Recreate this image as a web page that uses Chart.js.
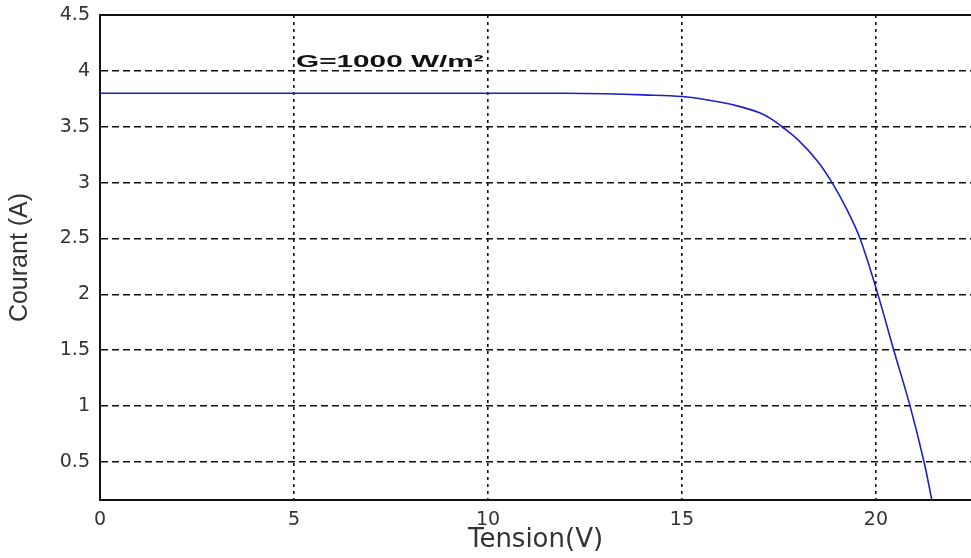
<!DOCTYPE html>
<html>
<head>
<meta charset="utf-8">
<script src="https://cdn.jsdelivr.net/npm/chart.js@4"></script>
<style>
  html, body { margin: 0; padding: 0; background: #fff; }
  #wrap { width: 971px; height: 558px; }
</style>
</head>
<body>
<div id="wrap"><canvas id="ivChart"></canvas></div>
<script>
// I-V curve
const tension = [0, 5, 10, 12, 13, 14, 15, 16, 16.5, 17, 17.3, 17.58, 18, 18.5, 18.87, 19.25, 19.59, 20.05, 20.46, 20.88, 21.24, 21.44];
const courant = [3.80, 3.80, 3.80, 3.80, 3.795, 3.785, 3.77, 3.72, 3.68, 3.625, 3.57, 3.5, 3.38, 3.19, 3.0, 2.76, 2.5, 2.0, 1.5, 1.0, 0.5, 0.16];

const xTicks = [0, 5, 10, 15, 20];
const yTicks = [0.5, 1, 1.5, 2, 2.5, 3, 3.5, 4, 4.5];
const xRange = [0, 22.45];
const yRange = [0.16, 4.5];

const noteText = "G=1000 W/m²";
const notePos = { x: 5, y: 4 };

// texte en gras, étiré comme sur l'original
const notePlugin = {
    id: "note",
    afterDatasetsDraw(chart) {
        const { ctx, scales } = chart;
        const px = scales.x.getPixelForValue(notePos.x) + 2;
        const py = scales.y.getPixelForValue(notePos.y) - 4;
        ctx.save();
        ctx.font = "bold 17px 'Liberation Sans', Arial, sans-serif";
        ctx.fillStyle = "#111";
        ctx.textAlign = "left";
        ctx.textBaseline = "alphabetic";
        ctx.translate(px, py);
        ctx.scale(1.75, 1);
        ctx.fillText(noteText, 0, 0);
        ctx.restore();
    }
};

const canvas = document.getElementById("ivChart");

new Chart(canvas, {
    type: "line",
    data: {
        datasets: [{
            data: tension.map((v, i) => ({ x: v, y: courant[i] })),
            borderColor: "rgb(30,30,205)",
            borderWidth: 1.6,
            pointRadius: 0,
            fill: false,
            tension: 0.35
        }]
    },
    options: {
        responsive: true,
        maintainAspectRatio: false,
        animation: false,
        layout: { padding: { top: 15, right: 0, bottom: 0, left: 0 } },
        plugins: {
            legend: { display: false },
            tooltip: { enabled: false }
        },
        scales: {
            x: {
                type: "linear",
                min: xRange[0],
                max: xRange[1],
                afterBuildTicks: s => { s.ticks = xTicks.map(v => ({ value: v })); },
                afterFit: s => { s.height = 58; s.paddingLeft = 0; s.paddingRight = 0; },
                grid: { color: "#111", lineWidth: 1.6, drawTicks: false },
                border: { display: true, color: "#111", width: 2, dash: [3, 4] },
                ticks: {
                    padding: 9,
                    color: "#333",
                    font: { family: "'DejaVu Sans'", size: 19 },
                    callback: v => String(v)
                },
                title: {
                    display: true,
                    text: "Tension(V)",
                    color: "#333",
                    font: { family: "'DejaVu Sans'", size: 26 },
                    padding: { top: 0, bottom: 2 }
                }
            },
            xTop: {
                type: "linear",
                position: "top",
                min: xRange[0],
                max: xRange[1],
                afterFit: s => { s.height = 0; s.paddingLeft = 0; s.paddingRight = 0; },
                grid: { display: false, drawTicks: false },
                ticks: { display: false },
                border: { display: true, color: "#111", width: 2 }
            },
            y: {
                min: yRange[0],
                max: yRange[1],
                afterBuildTicks: s => { s.ticks = yTicks.map(v => ({ value: v })); },
                afterFit: s => { s.width = 100; s.paddingTop = 0; s.paddingBottom = 0; },
                grid: { color: "#111", lineWidth: 1.6, drawTicks: false },
                border: { display: true, color: "#111", width: 2, dash: [7, 4] },
                ticks: {
                    padding: 10,
                    color: "#333",
                    font: { family: "'DejaVu Sans'", size: 19 },
                    callback: v => String(v)
                },
                title: {
                    display: true,
                    text: "Courant (A)",
                    color: "#333",
                    font: { family: "'Liberation Sans'", size: 25 },
                    padding: { top: 5, bottom: 0 }
                }
            }
        }
    },
    plugins: [notePlugin]
});
</script>
</body>
</html>
